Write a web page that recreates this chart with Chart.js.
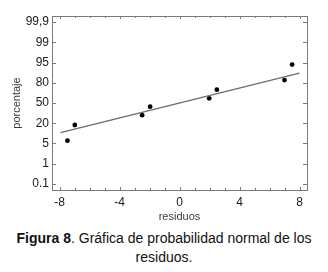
<!DOCTYPE html>
<html>
<head>
<meta charset="utf-8">
<script src="https://cdn.jsdelivr.net/npm/chart.js@4.4.1/dist/chart.umd.min.js"></script>
<style>
    body { margin: 0; background: #fff; }
    #wrap { position: relative; width: 328px; height: 272px; }
    #caption {
        position: absolute; left: 0; top: 229px; width: 328px;
        text-align: center; font: 14px "Liberation Sans", Arial, sans-serif;
        line-height: 19px; color: #111;
    }
</style>
</head>
<body>
<div id="wrap">
    <canvas id="chart" width="328" height="228"></canvas>
    <div id="caption"><b>Figura 8</b>. Gráfica de probabilidad normal de los<br>residuos.</div>
</div>
<script>
// probability axis: tick labels are evenly spaced
const yLabels = ['0.1', '1', '5', '20', '50', '80', '95', '99', '99,9'];
const yLevels = [0.1, 1, 5, 20, 50, 80, 95, 99, 99.9];

// residuals and their cumulative percentages
const residuos = [-7.47, -6.98, -2.49, -1.96, 1.98, 2.49, 7.0, 7.51];
const porcentaje = [7.1, 18.7, 32, 44.6, 56.9, 69.8, 82, 93.5];

// fitted reference line
const fitX = [-7.93, 8.0];
const fitPct = [13, 87.2];

// percentage -> position on the evenly spaced tick scale
function toPos(p) {
    for (let i = 0; i < yLevels.length - 1; i++) {
        if (p <= yLevels[i + 1]) {
            return i + (p - yLevels[i]) / (yLevels[i + 1] - yLevels[i]);
        }
    }
    return yLevels.length - 1;
}

const FONT = '"Liberation Sans", Arial, sans-serif';

// frame box with small inward ticks on all four sides
const framePlugin = {
    id: 'frame',
    afterDatasetsDraw(chart) {
        const { ctx, chartArea: a, scales } = chart;
        ctx.save();
        ctx.strokeStyle = '#7a7a7a';
        ctx.lineWidth = 1;
        ctx.strokeRect(Math.round(a.left) + 0.5, Math.round(a.top) + 0.5,
            Math.round(a.right - a.left), Math.round(a.bottom - a.top));
        ctx.beginPath();
        for (let i = 0; i < yLabels.length; i++) {
            const y = Math.round(scales.y.getPixelForValue(i)) + 0.5;
            ctx.moveTo(a.left, y); ctx.lineTo(a.left + 4, y);
            ctx.moveTo(a.right, y); ctx.lineTo(a.right - 4, y);
        }
        for (let v = -8; v <= 8; v++) {
            const x = Math.round(scales.x.getPixelForValue(v)) + 0.5;
            const len = v % 4 === 0 ? 3 : 2;
            ctx.moveTo(x, a.top); ctx.lineTo(x, a.top + len);
            ctx.moveTo(x, a.bottom); ctx.lineTo(x, a.bottom - len);
        }
        ctx.stroke();
        ctx.restore();
    }
};

const ctx = document.getElementById('chart').getContext('2d');
new Chart(ctx, {
    data: {
        datasets: [{
            type: 'line',
            data: fitX.map((x, i) => ({ x: x, y: toPos(fitPct[i]) })),
            borderColor: '#6b6b6b',
            borderWidth: 1.3,
            pointRadius: 0,
            fill: false
        }, {
            type: 'scatter',
            data: residuos.map((x, i) => ({ x: x, y: toPos(porcentaje[i]) })),
            backgroundColor: '#000',
            borderColor: '#000',
            pointRadius: 2.4,
            borderWidth: 0
        }]
    },
    options: {
        responsive: false,
        animation: false,
        layout: { padding: { left: 0, right: 21, top: 16, bottom: 0 } },
        plugins: {
            legend: { display: false },
            tooltip: { enabled: false }
        },
        scales: {
            x: {
                type: 'linear',
                min: -8.5,
                max: 8.5,
                grid: { display: false, drawTicks: false },
                border: { display: false },
                ticks: {
                    stepSize: 4,
                    includeBounds: false,
                    padding: 5,
                    color: '#1a1a1a',
                    font: { family: FONT, size: 12 }
                },
                title: {
                    display: true,
                    text: 'residuos',
                    color: '#3a3a3a',
                    padding: { top: 0, bottom: 4 },
                    font: { family: FONT, size: 11 }
                },
                afterFit(s) { s.height = 38; }
            },
            y: {
                type: 'linear',
                min: -0.3,
                max: 8.3,
                grid: { display: false, drawTicks: false },
                border: { display: false },
                ticks: {
                    stepSize: 1,
                    includeBounds: false,
                    padding: 3,
                    color: '#1a1a1a',
                    font: { family: FONT, size: 12 },
                    callback: v => yLabels[v]
                },
                title: {
                    display: true,
                    text: 'porcentaje',
                    color: '#3a3a3a',
                    padding: { top: 10, bottom: 0 },
                    font: { family: FONT, size: 11 }
                },
                afterFit(s) { s.width = 52; }
            }
        }
    },
    plugins: [framePlugin]
});
</script>
</body>
</html>
